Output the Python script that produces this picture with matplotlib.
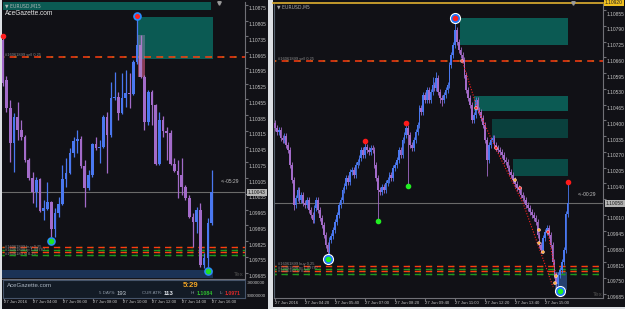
import numpy as np
import matplotlib
matplotlib.use("Agg")
import matplotlib.pyplot as plt
from matplotlib.patches import Rectangle
from matplotlib.transforms import offset_copy

plt.rcParams['font.family'] = ['Liberation Sans', 'DejaVu Sans']

# ---------------- LEFT chart: EURUSD, M15 ----------------
left_open = [1.10719, 1.10542, 1.10417, 1.10262, 1.10377, 1.10320, 1.10288, 1.10186, 1.10106, 1.10044,
             1.10102, 1.09960, 1.09968, 1.09999, 1.09880, 1.09951, 1.09991, 1.10102, 1.10128, 1.10217,
             1.10271, 1.10280, 1.10160, 1.10062, 1.10120, 1.10257, 1.10240, 1.10244, 1.10377, 1.10297,
             1.10462, 1.10466, 1.10395, 1.10462, 1.10484, 1.10479, 1.10622, 1.10697, 1.10555, 1.10355,
             1.10488, 1.10431, 1.10168, 1.10364, 1.10315, 1.10306, 1.10168, 1.10137, 1.10120, 1.10066,
             1.10017, 1.09933, 1.09911, 1.09964, 1.09720, 1.09751, 1.09907]
left_high = [1.10737, 1.10559, 1.10453, 1.10395, 1.10444, 1.10364, 1.10297, 1.10195, 1.10133, 1.10111,
             1.10106, 1.10008, 1.10088, 1.10004, 1.09973, 1.10022, 1.10164, 1.10195, 1.10240, 1.10288,
             1.10320, 1.10293, 1.10186, 1.10142, 1.10262, 1.10288, 1.10275, 1.10386, 1.10399, 1.10533,
             1.10577, 1.10488, 1.10573, 1.10586, 1.10573, 1.10631, 1.10817, 1.10742, 1.10564, 1.10497,
             1.10497, 1.10435, 1.10399, 1.10382, 1.10333, 1.10320, 1.10195, 1.10186, 1.10195, 1.10075,
             1.10031, 1.09951, 1.09977, 1.09995, 1.09773, 1.09929, 1.10142]
left_low = [1.10515, 1.10399, 1.10177, 1.10133, 1.10275, 1.10275, 1.10177, 1.10097, 1.09995, 1.09977,
            1.09955, 1.09920, 1.09964, 1.09844, 1.09844, 1.09933, 1.09986, 1.10066, 1.10124, 1.10200,
            1.10217, 1.10151, 1.09977, 1.10053, 1.10111, 1.10231, 1.10173, 1.10240, 1.10128, 1.10288,
            1.10453, 1.10364, 1.10391, 1.10422, 1.10417, 1.10475, 1.10613, 1.10551, 1.10320, 1.10342,
            1.10342, 1.10164, 1.10164, 1.10288, 1.10186, 1.10164, 1.10133, 1.10017, 1.10031, 1.10008,
            1.09929, 1.09800, 1.09862, 1.09711, 1.09706, 1.09711, 1.09897]
left_close = [1.10528, 1.10417, 1.10262, 1.10377, 1.10320, 1.10288, 1.10186, 1.10106, 1.10044, 1.10097,
              1.09960, 1.09973, 1.09999, 1.09880, 1.09951, 1.09991, 1.10102, 1.10128, 1.10217, 1.10271,
              1.10280, 1.10160, 1.10062, 1.10120, 1.10257, 1.10240, 1.10244, 1.10377, 1.10297, 1.10462,
              1.10466, 1.10395, 1.10462, 1.10484, 1.10479, 1.10622, 1.10697, 1.10555, 1.10355, 1.10488,
              1.10431, 1.10168, 1.10364, 1.10315, 1.10306, 1.10168, 1.10137, 1.10120, 1.10066, 1.10017,
              1.09933, 1.09911, 1.09964, 1.09720, 1.09751, 1.09907, 1.10043]
left_price_ticks = [1.10875, 1.10805, 1.10735, 1.10665, 1.10595, 1.10525, 1.10455, 1.10385, 1.10315,
                    1.10245, 1.10175, 1.10105, 1.10035, 1.09965, 1.09895, 1.09825, 1.09755, 1.09685]
left_time_pos = [0, 8, 16, 24, 32, 40, 48, 56]
left_time_labels = ["27 Jun 2016", "27 Jun 04:00", "27 Jun 06:00", "27 Jun 08:00",
                    "27 Jun 10:00", "27 Jun 12:00", "27 Jun 14:00", "27 Jun 16:00"]
left_sell_level = 1.10643
left_low_levels = [1.09799, 1.09787, 1.09775, 1.09764]
left_zone = (36.2, 56.3, 1.10635, 1.10822)
left_band = (-0.2, 56.3, 1.09662, 1.09697)
left_peak = (36, 1.10826)
left_red_dot = (0, 1.10737)
left_green_marks_x = [13, 55]
left_green_marks_y = [1.09826, 1.09693]

# ---------------- RIGHT chart: EURUSD, M5 ----------------
right_first_open = 1.10390
right_close = [1.10368, 1.10352, 1.10360, 1.10327, 1.10319, 1.10335, 1.10298, 1.10278, 1.10216, 1.10154,
               1.10051, 1.10080, 1.10113, 1.10071, 1.10092, 1.10059, 1.10051, 1.10071, 1.10030, 1.10010,
               1.09989, 1.10038, 1.10071, 1.10030, 1.09997, 1.09968, 1.09927, 1.09886, 1.09857, 1.09907,
               1.09923, 1.09948, 1.09981, 1.10010, 1.10051, 1.10071, 1.10113, 1.10129, 1.10162, 1.10146,
               1.10187, 1.10195, 1.10175, 1.10216, 1.10228, 1.10245, 1.10278, 1.10257, 1.10290, 1.10278,
               1.10269, 1.10286, 1.10278, 1.10216, 1.10162, 1.10113, 1.10104, 1.10125, 1.10113, 1.10142,
               1.10154, 1.10175, 1.10162, 1.10203, 1.10216, 1.10236, 1.10278, 1.10257, 1.10319, 1.10340,
               1.10368, 1.10340, 1.10298, 1.10286, 1.10319, 1.10352, 1.10381, 1.10451, 1.10434, 1.10504,
               1.10484, 1.10525, 1.10484, 1.10517, 1.10546, 1.10533, 1.10575, 1.10517, 1.10492, 1.10484,
               1.10504, 1.10525, 1.10546, 1.10628, 1.10669, 1.10711, 1.10773, 1.10723, 1.10690, 1.10669,
               1.10649, 1.10587, 1.10525, 1.10492, 1.10463, 1.10401, 1.10422, 1.10484, 1.10443, 1.10434,
               1.10410, 1.10381, 1.10319, 1.10236, 1.10298, 1.10319, 1.10327, 1.10298, 1.10286, 1.10278,
               1.10269, 1.10257, 1.10236, 1.10228, 1.10203, 1.10187, 1.10175, 1.10154, 1.10137, 1.10121,
               1.10113, 1.10092, 1.10080, 1.10071, 1.10051, 1.10038, 1.10022, 1.10010, 1.09997, 1.09981,
               1.09927, 1.09886, 1.09865, 1.09915, 1.09940, 1.09956, 1.09927, 1.09886, 1.09816, 1.09762,
               1.09725, 1.09762, 1.09783, 1.09816, 1.09865, 1.10014, 1.10058]
right_high = [1.10402, 1.10380, 1.10372, 1.10372, 1.10339, 1.10347, 1.10347, 1.10310, 1.10290, 1.10228,
              1.10166, 1.10092, 1.10125, 1.10125, 1.10104, 1.10104, 1.10071, 1.10083, 1.10083, 1.10042,
              1.10022, 1.10050, 1.10083, 1.10083, 1.10042, 1.10009, 1.09980, 1.09939, 1.09898, 1.09919,
              1.09935, 1.09960, 1.09993, 1.10022, 1.10063, 1.10083, 1.10125, 1.10141, 1.10174, 1.10174,
              1.10199, 1.10207, 1.10207, 1.10228, 1.10240, 1.10257, 1.10290, 1.10290, 1.10315, 1.10302,
              1.10290, 1.10298, 1.10298, 1.10290, 1.10228, 1.10174, 1.10125, 1.10137, 1.10137, 1.10154,
              1.10166, 1.10187, 1.10187, 1.10215, 1.10228, 1.10248, 1.10290, 1.10290, 1.10331, 1.10352,
              1.10389, 1.10380, 1.10352, 1.10310, 1.10331, 1.10364, 1.10393, 1.10463, 1.10463, 1.10516,
              1.10516, 1.10537, 1.10537, 1.10529, 1.10580, 1.10558, 1.10600, 1.10587, 1.10529, 1.10504,
              1.10516, 1.10537, 1.10558, 1.10640, 1.10681, 1.10723, 1.10822, 1.10785, 1.10735, 1.10702,
              1.10681, 1.10661, 1.10599, 1.10537, 1.10504, 1.10475, 1.10434, 1.10496, 1.10496, 1.10455,
              1.10446, 1.10422, 1.10393, 1.10331, 1.10310, 1.10331, 1.10339, 1.10339, 1.10310, 1.10298,
              1.10290, 1.10281, 1.10269, 1.10248, 1.10240, 1.10215, 1.10199, 1.10187, 1.10166, 1.10149,
              1.10133, 1.10125, 1.10104, 1.10092, 1.10083, 1.10063, 1.10050, 1.10034, 1.10022, 1.10009,
              1.09993, 1.09939, 1.09898, 1.09927, 1.09952, 1.09968, 1.09968, 1.09939, 1.09898, 1.09828,
              1.09774, 1.09774, 1.09795, 1.09828, 1.09877, 1.10026, 1.10142]
right_low = [1.10356, 1.10340, 1.10340, 1.10315, 1.10307, 1.10307, 1.10286, 1.10266, 1.10204, 1.10142,
             1.10030, 1.10039, 1.10068, 1.10059, 1.10059, 1.10047, 1.10039, 1.10039, 1.10018, 1.09998,
             1.09977, 1.09977, 1.10026, 1.10018, 1.09985, 1.09956, 1.09915, 1.09874, 1.09841, 1.09845,
             1.09895, 1.09911, 1.09936, 1.09969, 1.09998, 1.10039, 1.10059, 1.10101, 1.10117, 1.10134,
             1.10134, 1.10175, 1.10163, 1.10163, 1.10204, 1.10216, 1.10233, 1.10245, 1.10245, 1.10266,
             1.10257, 1.10257, 1.10266, 1.10204, 1.10150, 1.09985, 1.10092, 1.10092, 1.10101, 1.10101,
             1.10130, 1.10142, 1.10150, 1.10150, 1.10191, 1.10204, 1.10224, 1.10245, 1.10245, 1.10307,
             1.10328, 1.10133, 1.10286, 1.10274, 1.10274, 1.10307, 1.10340, 1.10369, 1.10422, 1.10422,
             1.10472, 1.10472, 1.10472, 1.10472, 1.10505, 1.10521, 1.10521, 1.10505, 1.10470, 1.10460,
             1.10472, 1.10492, 1.10513, 1.10534, 1.10616, 1.10657, 1.10699, 1.10711, 1.10678, 1.10657,
             1.10637, 1.10575, 1.10513, 1.10480, 1.10451, 1.10389, 1.10389, 1.10410, 1.10431, 1.10422,
             1.10398, 1.10369, 1.10307, 1.10170, 1.10224, 1.10286, 1.10307, 1.10286, 1.10274, 1.10266,
             1.10257, 1.10245, 1.10224, 1.10216, 1.10191, 1.10175, 1.10163, 1.10142, 1.10125, 1.10109,
             1.10101, 1.10080, 1.10068, 1.10059, 1.10039, 1.10026, 1.10010, 1.09998, 1.09985, 1.09969,
             1.09915, 1.09874, 1.09853, 1.09853, 1.09903, 1.09928, 1.09915, 1.09874, 1.09804, 1.09750,
             1.09709, 1.09713, 1.09750, 1.09771, 1.09804, 1.09853, 1.10002]
right_price_ticks = [1.10855, 1.10790, 1.10725, 1.10660, 1.10595, 1.10530, 1.10465, 1.10400, 1.10335, 1.10270,
                     1.10205, 1.10140, 1.10075, 1.10010, 1.09945, 1.09880, 1.09815, 1.09750, 1.09685]
right_time_pos = [0, 16, 32, 48, 64, 80, 96, 112, 128, 144]
right_time_labels = ["27 Jun 2016", "27 Jun 04:20", "27 Jun 05:40", "27 Jun 07:00", "27 Jun 08:20",
                     "27 Jun 09:40", "27 Jun 11:00", "27 Jun 12:20", "27 Jun 13:40", "27 Jun 15:00"]
right_sell_level = 1.10645
right_low_levels = [1.09800, 1.09787, 1.09777, 1.09766]
right_zones = [(98.7, 156.3, 1.10711, 1.10822, '#0b5a53'),
               (106.1, 156.3, 1.10438, 1.10500, '#0b5a53'),
               (115.7, 156.3, 1.10327, 1.10405, '#0a403d'),
               (126.9, 156.3, 1.10170, 1.10241, '#0a4a45')]
right_big_x = [96, 28, 152]
right_big_y = [1.10823, 1.09828, 1.09697]
right_big_inner = ['#ff2020', '#22ee22', '#22ee22']
right_red_x = [48, 70, 156]
right_red_y = [1.10316, 1.10390, 1.10144]
right_green_x = [55, 71]
right_green_y = [1.09985, 1.10131]
right_trend_x = [99.7, 107.7, 117.3, 132.3, 148.3]
right_trend_y = [1.10649, 1.10455, 1.10290, 1.10059, 1.09713]
right_trend2_x = [145.6, 149.9]
right_trend2_y = [1.09940, 1.09758]
right_small_x = [99.7, 107.2, 117.9, 128.0, 130.7, 140.8, 140.8, 142.9, 145.6, 149.9, 149.3]
right_small_y = [1.10645, 1.10451, 1.10286, 1.10154, 1.10121, 1.09948, 1.09894, 1.09857, 1.09940, 1.09758, 1.09729]
right_small_c = ['#ff6060', '#ff4040', '#ff3030', '#ffb040', '#ff4040', '#ffb040', '#ffb040', '#ffb040',
                 '#ff3030', '#ffb040', '#ffb040']
right_box = (149.3, 155.7, 1.09700, 1.09775)

# ---------------- styling ----------------
W, H = 625, 309
DARK = '#111116'
BULL = '#4a78f0'
BEAR = '#a36bc9'
TXT = '#c4c4c4'
BORDER = '#707076'
RED_LVL = '#ff3c10'
GRN_LVL = '#1f9a1f'
PFS = 3.5   # price label size
TFS = 3.1   # time label size

fig = plt.figure(figsize=(W / 100, H / 100), dpi=100)
fig.patch.set_facecolor('#dde0e4')


def rect_px(x0, y0, x1, y1):
    return [x0 / W, 1 - y1 / H, (x1 - x0) / W, (y1 - y0) / H]


bg = fig.add_axes([0, 0, 1, 1], zorder=-10)
bg.set_xlim(0, W); bg.set_ylim(H, 0); bg.axis('off')
bg.add_patch(Rectangle((1.5, 0), 266.5, 309, color=DARK, lw=0))
bg.add_patch(Rectangle((272.5, 0), 352, 306.5, color=DARK, lw=0))


def candles(ax, o, h, l, c, width, lw):
    o, h, l, c = map(np.asarray, (o, h, l, c))
    x = np.arange(len(c))
    cols = np.where(c >= o, BULL, BEAR)
    ax.vlines(x, l, h, colors=cols, lw=lw, zorder=3)
    body = np.maximum(np.abs(c - o), 0.00002)
    ax.bar(x, body, bottom=np.minimum(o, c), width=width, color=cols, lw=0, zorder=4)


def style_axes(ax, xlim, ylim, yticks):
    ax.set_facecolor(DARK)
    ax.set_xlim(*xlim)
    ax.set_ylim(*ylim)
    for s in ['top', 'left']:
        ax.spines[s].set_visible(False)
    for s in ['right', 'bottom']:
        ax.spines[s].set_color(BORDER)
        ax.spines[s].set_linewidth(0.8)
    ax.yaxis.tick_right()
    ax.set_yticks(yticks)
    ax.tick_params(axis='y', length=2, color=BORDER, labelright=False, labelleft=False)
    ax.set_xticks([])


def price_labels(ax, levels):
    tr = offset_copy(ax.get_yaxis_transform(), fig=fig, x=3.5, y=-4, units='dots')
    for v in levels:
        ax.text(1.0, v, f"{v:.5f}", transform=tr, ha='left', va='center',
                fontsize=PFS, color=TXT, clip_on=False)


def current_label(ax, v):
    tr = offset_copy(ax.get_yaxis_transform(), fig=fig, x=3, y=0, units='dots')
    ax.text(1.0, v, f"{v:.5f}", transform=tr, ha='left', va='center', fontsize=PFS,
            color='#1a1a1a', clip_on=False,
            bbox=dict(boxstyle='square,pad=0.2', fc='#b4b4b4', ec='none'))


def time_labels(ax, pos, labels, dy):
    tr = offset_copy(ax.get_xaxis_transform(), fig=fig, x=0, y=dy, units='dots')
    for p, s in zip(pos, labels):
        ax.text(p, 0, s, transform=tr, ha='left', va='center', fontsize=TFS,
                color=TXT, clip_on=False)


def level_line(ax, y, color, lw=1.1):
    ax.axhline(y, color=GRN_LVL, lw=lw, ls=(0, (1.5, 6.5)), zorder=2)
    ax.axhline(y, color=color, lw=lw, ls=(3, (4.5, 3.5)), zorder=2)


# ================= LEFT PANEL =================
L_SP = 3.73
axL = fig.add_axes(rect_px(2, 2, 245, 279))
style_axes(axL, (-2.7 / L_SP + 0.53, (245 - 2.7) / L_SP), (1.09657, 1.10888), left_price_ticks)

z = left_zone
axL.add_patch(Rectangle((z[0], z[2]), z[1] - z[0], z[3] - z[2], color='#0b5a53', lw=0, zorder=1))
axL.add_patch(Rectangle((36.2, 1.10555), 1.9, 1.10635 - 1.10555, color='#6e0c1a', lw=0, zorder=1))
b = left_band
axL.add_patch(Rectangle((b[0], b[2]), b[1] - b[0], b[3] - b[2], color='#1b3356', lw=0, zorder=1))

candles(axL, left_open, left_high, left_low, left_close, 0.72, 0.9)
axL.add_patch(Rectangle((36.2, 1.10555), 1.9, 1.10742 - 1.10555, color='#b898c8', alpha=0.35, lw=0, zorder=5))

level_line(axL, left_sell_level, RED_LVL)
for lv, c in zip(left_low_levels, [RED_LVL, GRN_LVL, RED_LVL, GRN_LVL]):
    level_line(axL, lv, c, lw=1.0)
axL.axhline(left_close[-1], color='#6a6a6a', lw=0.8, zorder=2)

axL.plot(*left_peak, 'o', ms=5.2, color='#2a8cff', zorder=7)
axL.plot(*left_peak, 'o', ms=2.6, color='#ff2020', zorder=8)
axL.plot(*left_red_dot, 'o', ms=3, color='#ff2020', zorder=7, clip_on=False)
axL.plot(left_green_marks_x, left_green_marks_y, 'o', ms=5.2, color='#2a8cff', ls='none', zorder=7)
axL.plot(left_green_marks_x, left_green_marks_y, 'o', ms=3, color='#22e022', ls='none', zorder=8)

price_labels(axL, left_price_ticks)
current_label(axL, left_close[-1])

infoL = fig.add_axes(rect_px(3, 280, 245, 298))
infoL.set_facecolor('#131b26')
for s in infoL.spines.values():
    s.set_color('#46546a'); s.set_linewidth(0.8)
infoL.set_xlim(axL.get_xlim())
infoL.set_xticks(left_time_pos)
infoL.set_yticks([])
infoL.tick_params(axis='x', length=2, color=BORDER, labelbottom=False)
time_labels(infoL, left_time_pos, left_time_labels, -4)

# ================= RIGHT PANEL =================
R_SP = 1.875
axR = fig.add_axes(rect_px(274, 4, 603, 298))
style_axes(axR, ((274 - 275) / R_SP, (603 - 275) / R_SP), (1.096675, 1.10880), right_price_ticks)
axR.spines['left'].set_visible(True)
axR.spines['left'].set_color('#55606c')
axR.set_xticks(right_time_pos)
axR.tick_params(axis='x', length=2, color=BORDER, labelbottom=False)

for x0, x1, y0, y1, col in right_zones:
    axR.add_patch(Rectangle((x0, y0), x1 - x0, y1 - y0, color=col, lw=0, zorder=1))
rb = right_box
axR.add_patch(Rectangle((rb[0], rb[2]), rb[1] - rb[0], rb[3] - rb[2], color='#2a4a80', alpha=0.85, lw=0, zorder=2))

right_open = [right_first_open] + right_close[:-1]
candles(axR, right_open, right_high, right_low, right_close, 0.85, 0.6)

level_line(axR, right_sell_level, RED_LVL)
for lv, c in zip(right_low_levels, [RED_LVL, GRN_LVL, RED_LVL, GRN_LVL]):
    level_line(axR, lv, c, lw=1.0)
axR.axhline(right_close[-1], color='#6a6a6a', lw=0.8, zorder=2)

axR.plot(right_trend_x, right_trend_y, color='#ff2020', lw=0.8, ls=(0, (1, 1.5)), zorder=6)
axR.plot(right_trend2_x, right_trend2_y, color='#ff2020', lw=0.8, ls=(0, (1, 1.5)), zorder=6)
axR.scatter(right_small_x, right_small_y, s=5, c=right_small_c, edgecolors='#ffe0e0', linewidths=0.3, zorder=7)

axR.plot(right_big_x, right_big_y, 'o', ms=7, color='white', ls='none', zorder=7)
axR.plot(right_big_x, right_big_y, 'o', ms=5.4, color='#1e78ff', ls='none', zorder=8)
for x, y, c in zip(right_big_x, right_big_y, right_big_inner):
    axR.plot(x, y, 'o', ms=3, color=c, zorder=9)
axR.plot(right_red_x, right_red_y, 'o', ms=3, color='#ff1a1a', ls='none', zorder=7)
axR.plot(right_green_x, right_green_y, 'o', ms=3, color='#22ee22', ls='none', zorder=7)

price_labels(axR, right_price_ticks)
current_label(axR, right_close[-1])
time_labels(axR, right_time_pos, right_time_labels, -5)

# ================= overlay decorations (pixel space) =================
ov = fig.add_axes([0, 0, 1, 1], zorder=10)
ov.set_xlim(0, W); ov.set_ylim(H, 0); ov.axis('off')
ov.patch.set_alpha(0)

SM = 2.9
# left header bar & texts
ov.add_patch(Rectangle((3, 2), 208, 8, color='#0b5a53', lw=0))
ov.text(5, 6.2, "\u25bc EURUSD,M15", fontsize=3.3, color='#b0b8b8', va='center',
        family=['DejaVu Sans'])
ov.text(5, 13.5, "AceGazette.com", fontsize=4.7, color='#e6e6e6', va='center')
ov.plot(219, 2.5, marker='v', ms=2.5, color='#9a9a9a')
ov.text(5, 54.5, "#16061899 sell 0.25", fontsize=SM, color='#8a8a8a', va='center')
for dy, s in zip([247, 250.5, 254], ["#16061899 buy 0.25", "#16061898 tp 1.09787", "#1606189 sl 0.25"]):
    ov.text(5, dy, s, fontsize=SM, color='#8a8a8a', va='center')
ov.text(221, 181.5, "<--05:29", fontsize=PFS, color=TXT, va='center')
ov.text(234, 275, "Tex", fontsize=4.5, color='#505050', va='center')
ov.text(246.5, 283, "-9000000", fontsize=3.2, color=TXT, va='center')
ov.text(246.5, 296, "90000000", fontsize=3.2, color=TXT, va='center')

# info panel texts
ov.text(7, 285.5, "AceGazette.com", fontsize=4.4, color='#aab4c0', va='center')
ov.text(183, 285.5, "5:29", fontsize=5.6, color='#f5a623', va='center', weight='bold')
ov.text(99, 293.5, "5 DAYS:", fontsize=3.2, color='#8a96a4', va='center')
ov.text(116.5, 293.3, "193", fontsize=4.2, color='#c8d0d8', va='center')
ov.text(142, 293.5, "CUR ATR:", fontsize=3.2, color='#8a96a4', va='center')
ov.text(163.5, 293.3, "113", fontsize=4.4, color='#e4e8ee', va='center', weight='bold')
ov.text(191, 293.5, "H:", fontsize=3.2, color='#8a96a4', va='center')
ov.text(197, 293.3, "1.1084", fontsize=3.7, color='#2ec02e', va='center', weight='bold')
ov.text(219.5, 293.5, "L:", fontsize=3.2, color='#8a96a4', va='center')
ov.text(225, 293.3, "1.0971", fontsize=3.7, color='#e02828', va='center', weight='bold')

# right header & texts
ov.plot([273, 603], [2.5, 2.5], color='#e0b030', lw=1.2)
ov.add_patch(Rectangle((604, 0), 20, 6, color='#f0c020', lw=0))
ov.text(605, 3, "1.10920", fontsize=PFS, color='#202020', va='center')
ov.text(277, 6.5, "\u25bc EURUSD,M5", fontsize=3.3, color='#a8a8a8', va='center',
        family=['DejaVu Sans'])
ov.plot(573, 3, marker='v', ms=2.5, color='#9a9a9a')
ov.text(278, 58.5, "#16061899 sell 0.25", fontsize=SM, color='#8a8a8a', va='center')
for dy, s in zip([264, 267.5, 271], ["#16061899 buy 0.25", "#16061898 tp 1.09787", "#1606189 sl 0.25"]):
    ov.text(278, dy, s, fontsize=SM, color='#8a8a8a', va='center')
ov.text(578, 194, "<--00:29", fontsize=PFS, color=TXT, va='center')
ov.text(593, 295, "Tex", fontsize=4.5, color='#505050', va='center')

fig.savefig("out.png", dpi=100, facecolor=fig.get_facecolor())
